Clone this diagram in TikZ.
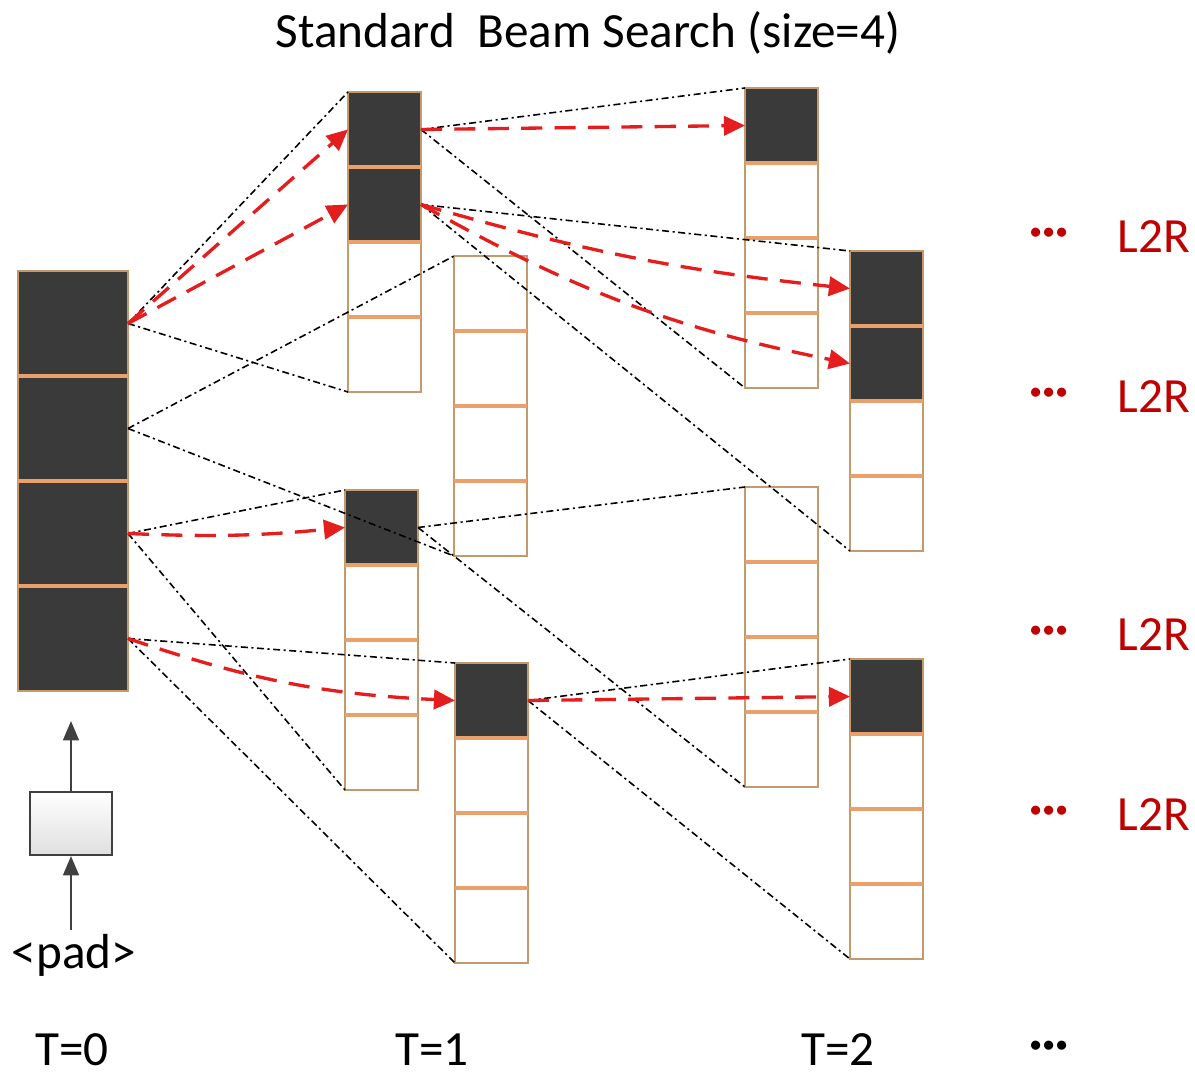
\documentclass[tikz,border=0pt]{standalone}
\usepackage{fontspec}
\setmainfont{Carlito}
\usetikzlibrary{arrows.meta,positioning}
\definecolor{cellfill}{HTML}{3A3A3A}
\definecolor{celledge}{HTML}{C49A6C}
\definecolor{cellrule}{HTML}{E9A06A}
\definecolor{pickred}{HTML}{E41E1E}
\definecolor{tagred}{HTML}{C00000}
\definecolor{wire}{HTML}{404040}

\begin{document}
\begin{tikzpicture}[
  every node/.style={font=\fontsize{14}{17}\selectfont},
  cell/.style={draw=celledge, line width=0.6pt, minimum width=0.73cm, minimum height=0.75cm,
               inner sep=0pt, outer sep=0pt},
  hot/.style={cell, fill=cellfill},
  blank/.style={cell, fill=white},
  big/.style={minimum width=1.10cm, minimum height=1.05cm},
  sepline/.style={draw=cellrule, line width=1.1pt},
  ruled/.style={append after command={(\tikzlastnode.north west) edge[sepline] (\tikzlastnode.north east)}},
  beam/.style={black, line width=0.45pt, dash pattern=on 2pt off 1pt on 0.6pt off 1pt},
  pick/.style={-{Triangle[length=6pt,width=5.5pt]}, draw=pickred, line width=0.95pt,
               dash pattern=on 6pt off 3.5pt},
  feed/.style={-{Triangle[length=5.5pt,width=4.5pt]}, draw=wire, line width=0.6pt},
  lr/.style={text=tagred},
  step label/.style={inner sep=1pt},
]
\useasboundingbox (0,0) rectangle (11.95,-10.74);

%% Title
\node (title) at (5.88,-0.33) {Standard\ \ Beam Search (size=4)};

%% T=0: four hypotheses
\node[hot, big, anchor=north west] (t1) at (0.18,-2.71) {};
\node[hot, big, ruled, below=0pt of t1] (t2) {};
\node[hot, big, ruled, below=0pt of t2] (t3) {};
\node[hot, big, ruled, below=0pt of t3] (t4) {};

%% T=1: one column per hypothesis
\node[hot, anchor=north west] (a1) at (3.48,-0.92) {};
\node[hot, ruled, below=0pt of a1] (a2) {};
\node[blank, ruled, below=0pt of a2] (a3) {};
\node[blank, ruled, below=0pt of a3] (a4) {};

\node[blank, anchor=north west] (b1) at (4.54,-2.56) {};
\node[blank, ruled, below=0pt of b1] (b2) {};
\node[blank, ruled, below=0pt of b2] (b3) {};
\node[blank, ruled, below=0pt of b3] (b4) {};

\node[hot, anchor=north west] (c1) at (3.45,-4.90) {};
\node[blank, ruled, below=0pt of c1] (c2) {};
\node[blank, ruled, below=0pt of c2] (c3) {};
\node[blank, ruled, below=0pt of c3] (c4) {};

\node[hot, anchor=north west] (d1) at (4.55,-6.63) {};
\node[blank, ruled, below=0pt of d1] (d2) {};
\node[blank, ruled, below=0pt of d2] (d3) {};
\node[blank, ruled, below=0pt of d3] (d4) {};

%% T=2
\node[hot, anchor=north west] (e1) at (7.45,-0.88) {};
\node[blank, ruled, below=0pt of e1] (e2) {};
\node[blank, ruled, below=0pt of e2] (e3) {};
\node[blank, ruled, below=0pt of e3] (e4) {};

\node[hot, anchor=north west] (f1) at (8.50,-2.51) {};
\node[hot, ruled, below=0pt of f1] (f2) {};
\node[blank, ruled, below=0pt of f2] (f3) {};
\node[blank, ruled, below=0pt of f3] (f4) {};

\node[blank, anchor=north west] (g1) at (7.45,-4.87) {};
\node[blank, ruled, below=0pt of g1] (g2) {};
\node[blank, ruled, below=0pt of g2] (g3) {};
\node[blank, ruled, below=0pt of g3] (g4) {};

\node[hot, anchor=north west] (h1) at (8.50,-6.59) {};
\node[blank, ruled, below=0pt of h1] (h2) {};
\node[blank, ruled, below=0pt of h2] (h3) {};
\node[blank, ruled, below=0pt of h3] (h4) {};

%% Decoder input
\node[draw=wire, line width=0.6pt, top color=white, bottom color=gray!25,
      minimum width=0.82cm, minimum height=0.63cm] (enc) at (0.71,-8.235) {};
\node[inner sep=1pt] (pad) at (0.74,-9.55) {<pad>};

%% Continuation labels
\node[lr] (l1) at (11.54,-2.37) {L2R};
\node[lr] (l2) at (11.54,-3.97) {L2R};
\node[lr] (l3) at (11.54,-6.35) {L2R};
\node[lr] (l4) at (11.54,-8.15) {L2R};
\node[lr] (m1) at (10.49,-2.37) {\textbf{···}};
\node[lr] (m2) at (10.49,-3.97) {\textbf{···}};
\node[lr] (m3) at (10.49,-6.35) {\textbf{···}};
\node[lr] (m4) at (10.49,-8.15) {\textbf{···}};

%% Time steps
\node[step label] (s0) at (0.72,-10.50) {T=0};
\node[step label] (s1) at (4.32,-10.50) {T=1};
\node[step label] (s2) at (8.38,-10.50) {T=2};
\node[step label] (s3) at (10.49,-10.50) {\textbf{···}};

%% Expansions
\draw[beam] (t1.east) -- (a1.north west);
\draw[beam] (t1.east) -- (a4.south west);
\draw[beam] (t2.east) -- (b1.north west);
\draw[beam] (t2.east) -- (b4.south west);
\draw[beam] (t3.east) -- (c1.north west);
\draw[beam] (t3.east) -- (c4.south west);
\draw[beam] (t4.east) -- (d1.north west);
\draw[beam] (t4.east) -- (d4.south west);
\draw[beam] (a1.east) -- (e1.north west);
\draw[beam] (a1.east) -- (e4.south west);
\draw[beam] (a2.east) -- (f1.north west);
\draw[beam] (a2.east) -- (f4.south west);
\draw[beam] (c1.east) -- (g1.north west);
\draw[beam] (c1.east) -- (g4.south west);
\draw[beam] (d1.east) -- (h1.north west);
\draw[beam] (d1.east) -- (h4.south west);

%% Kept hypotheses
\draw[pick] (t1.east) -- (a1.west);
\draw[pick] (t1.east) -- (a2.west);
\draw[pick] (t3.east) to[bend right=4] (c1.west);
\draw[pick] (t4.east) to[bend right=8] (d1.west);
\draw[pick] (a1.east) -- (e1.west);
\draw[pick] (a2.east) to[bend right=5] (f1.west);
\draw[pick] (a2.east) to[bend right=9] (f2.west);
\draw[pick] (d1.east) -- (h1.west);

\draw[feed] (pad.north -| enc) -- (enc.south);
\draw[feed, shorten >=0.3cm] (enc.north) -- (enc.north |- t4.south);

\end{tikzpicture}
\end{document}
